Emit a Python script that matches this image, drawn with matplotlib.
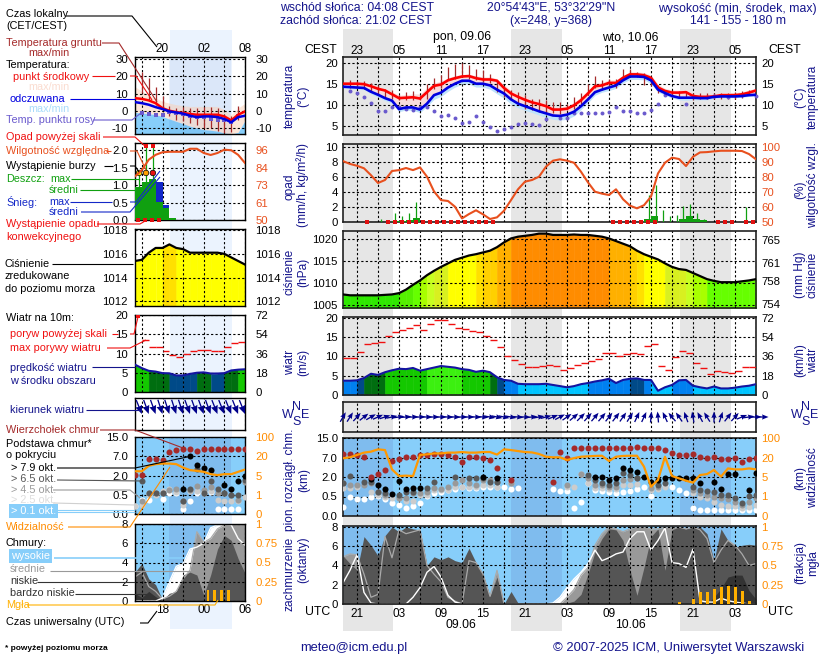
#!/usr/bin/env python
import numpy as np
import matplotlib as mpl
mpl.use('Agg')
import matplotlib.pyplot as plt

mpl.rcParams['font.family'] = 'Liberation Sans'
W, H = 820, 660
NAVY = '#14148c'
ORANGE = '#ff8c00'
RHCOL = '#e8501e'

# ---- main panel, hours from 19 UTC
hours = np.arange(60)
grid_hours = np.arange(2, 60, 3)
utc_labels = ['21', '', '03', '', '09', '', '15', '', '21', '', '03', '', '09', '', '15', '', '21', '', '03', '']
cest_labels = ['23', '', '05', '', '11', '', '17', '', '23', '', '05', '', '11', '', '17', '', '23', '', '05', '']
nights = [(0, 7.1), (24, 31.3), (48.1, 55.4)]

temp_mid = [15, 15, 15, 14.9, 14.4, 13.8, 13.4, 12.5, 11.6, 11.7,
            11.8, 11.5, 13, 14.5, 14.8, 15.8, 16.3, 16.7, 16.8, 16.3,
            16, 16, 15.7, 14, 12.7, 11.9, 11.2, 10.6, 10.2, 9.7,
            8.9, 8.9, 9.1, 9.9, 11.1, 12.7, 14.4, 14.6, 15.2, 15.2,
            16.4, 17.2, 17.2, 17, 16.4, 14.1, 13.3, 12.9, 12.9, 13,
            12.1, 11.9, 11.9, 12, 12.3, 12.3, 12.3, 12.5, 12.9, 13.4]
temp_max = [15.3, 15.3, 15.3, 15.2, 14.9, 14.4, 13.9, 13.1, 12.3, 12.4,
            12.6, 12.6, 14, 15.2, 15.6, 16.4, 16.9, 17.2, 17.2, 16.9,
            16.6, 16.6, 16.2, 14.8, 13.4, 12.6, 11.9, 11.3, 10.9, 10.4,
            9.6, 9.5, 9.8, 10.6, 11.9, 13.5, 15, 15.3, 15.9, 15.9,
            17, 17.8, 17.8, 17.6, 17, 14.9, 13.9, 13.5, 13.5, 13.6,
            12.8, 12.5, 12.5, 12.6, 12.9, 12.9, 12.9, 13.1, 13.5, 14]
feels = [14.3, 14.2, 14.1, 14, 13.1, 12.4, 11.6, 11, 9, 9.4,
         9.4, 8.9, 10.3, 12.3, 12.9, 14.1, 15, 15.7, 15.7, 15,
         15, 14.6, 13.6, 12.7, 11.3, 10.3, 9.7, 9.1, 8.5, 8,
         7.5, 7.4, 7.7, 8.4, 9.7, 11.3, 13, 13.6, 14.1, 14.6,
         15.8, 16.7, 16.7, 16.6, 15.8, 13.6, 12.8, 12.1, 11.7, 11.7,
         11.7, 11.6, 11.6, 11.9, 12, 12, 12, 12.1, 12.3, 12.4]
feels_min = [13.9, 13.8, 13.7, 13.6, 12.6, 11.8, 11, 10.4, 8.4, 8.8,
             8.7, 8.2, 9.6, 11.3, 12, 13.2, 14.2, 14.9, 14.9, 14.2,
             14.2, 13.7, 12.6, 11.6, 10.2, 9.3, 8.7, 8.2, 7.6, 7,
             6.6, 6.4, 6.6, 7.4, 8.9, 10.5, 12.3, 13, 13.4, 13.9,
             15.2, 16, 16, 15.9, 15, 13, 12.3, 11.6, 11.2, 11.1,
             11.2, 11.2, 11.2, 11.5, 11.7, 11.7, 11.7, 11.8, 12, 12.1]
ground_hours = np.arange(1, 60)
ground_max = [15.8, 15.6, 15.6, 15.2, 14.6, 13.8, 13.6, 12.3, 13, 13.3,
              12.3, 15, 16.4, 17, 18.9, 19.7, 19.8, 19.3, 18.5, 18.3,
              17.2, 15.6, 14.1, 13.4, 13, 12.3, 11.5, 11.5, 11.1, 10.7,
              10.7, 10.2, 11.9, 12.8, 15, 16.7, 15.9, 16.2, 16.2, 18.4,
              18.5, 17.7, 17.5, 16.6, 14.6, 13.6, 13.4, 13.3, 13.3, 12.8,
              12.7, 12.7, 12.8, 12.8, 12.8, 13, 13.3, 13.6, 13.8]
ground_min = [14.1, 14.1, 13.8, 13, 12.3, 11.7, 11.3, 11.1, 11.1, 11.1,
              11.1, 11.5, 13.8, 14.1, 15.8, 16.2, 16.6, 16.2, 15.8, 15.4,
              15.2, 13, 11.9, 11.5, 10.3, 9.1, 8.8, 8.4, 8, 8,
              7.8, 8.8, 9.1, 10.3, 12.3, 14.1, 13.6, 14.2, 14.1, 15.8,
              16.7, 16.6, 14.6, 14.4, 12.8, 12.3, 11.9, 11.9, 11.7, 11.1,
              11.5, 11.3, 11.4, 11.3, 11.3, 11.4, 11.7, 12.3, 12.3]
dew_hours = list(range(1, 30)) + list(range(31, 47)) + [49, 52, 53, 55, 57, 59]
dew = [13.2, 12.7, 11.9, 10.5, 8.5, 8.6, 9.4, 9.5, 9, 8.9,
       9.4, 9.4, 8.6, 7.4, 7.7, 7, 5.7, 5.9, 7.3, 5.9,
       4.7, 3.8, 4.3, 4.8, 5.5, 5.7, 5.4, 5.3, 6.6,
       7, 7, 8, 8.1, 8.2, 8, 8, 8.4, 9.5, 8.5, 8.5, 8.2, 8, 8.8, 10.1, 12.3,
       10.3, 11.9, 12, 11.9, 12.3, 12.1]

rh = [90.4, 88.5, 87.3, 85.6, 81, 75.8, 77.8, 83.8, 84.4, 85.8,
      84.4, 86.2, 80, 70.2, 64.4, 63.8, 60, 52.2, 55.1, 57.6,
      54.9, 51.8, 52.9, 57.3, 64.4, 71.6, 76.7, 77.8, 80, 86.7,
      90.7, 91.6, 90.7, 89.3, 83.3, 76.2, 70, 68.7, 67.8, 71.6,
      65, 60.7, 58.9, 61, 66.7, 82.2, 89.3, 92.7, 91.8, 87.1,
      93.3, 96.2, 96.4, 96.9, 97.3, 97.3, 97.3, 97.1, 95.1, 91.6]
rain_max_hours = [5.4, 7.4, 8.4, 9.4, 10.4, 43.7, 44.7, 45.7, 46.7, 47.7, 48.6, 49.6, 50.6, 51.6, 57.6]
rain_max = [0.3, 1.1, 0.7, 1.1, 2.6, 3.6, 4.9, 1.5, 0.7, 0.9, 2.1, 2.4, 1.1, 0.4, 2.0]
rain_mean_hours = [7, 8, 9, 10, 43, 44, 48, 49, 50, 51]
rain_mean = [0.1, 0.15, 0.2, 0.5, 0.3, 0.8, 0.4, 0.7, 0.4, 0.2]
conv_hours = [3.5] + [h + 0.5 for h in range(6, 22)] + [38.6, 39.6, 40.6, 41.6, 42.6, 43.6, 44.6, 53.6, 54.6, 55.6, 57.6, 58.6]

pressure = [1007.4, 1007.2, 1007.2, 1007.2, 1007.2, 1007.2, 1007.3, 1007.4, 1007.7, 1008.5,
            1009.6, 1010.6, 1011.8, 1012.8, 1013.7, 1014.5, 1015.3, 1015.8, 1016.3, 1016.6,
            1017, 1017.4, 1018.2, 1019.3, 1020.2, 1020.6, 1020.8, 1021, 1021.3, 1021.3,
            1021, 1021, 1021, 1021.1, 1021, 1021, 1020.8, 1020.6, 1020.2, 1019.6,
            1019, 1018.4, 1017.4, 1016.6, 1016, 1015.4, 1014.5, 1013.7, 1013.2, 1013,
            1012.3, 1011.6, 1010.9, 1010.5, 1010.2, 1010.2, 1010.2, 1010.4, 1010.6, 1010.9]
press_bins = [1008, 1009.6, 1010.9, 1012, 1013, 1014.4, 1016.6, 1017.1, 1018.6, 1020.1]
press_colors = ['#2fe800', '#55f000', '#66ff00', '#a8ff00', '#c8ff20', '#d8f020', '#ffff00',
                '#ffe000', '#ffd000', '#ffb000', '#ff8c00']

wind = [3.7, 3.7, 3.8, 4.4, 5.5, 5.2, 5.9, 6.4, 6.8, 6.7,
        7, 6.3, 6.7, 7.1, 7.5, 7.3, 7.1, 6.7, 6.5, 6,
        6.3, 5.9, 4.6, 3.9, 3.7, 2.9, 2.8, 2.8, 2.8, 2.9,
        2.6, 2.3, 2, 2.3, 2.8, 3.1, 3.5, 3.8, 4.2, 3.1,
        3.9, 4.2, 4.3, 3.9, 3.9, 1.1, 2, 2.6, 3.8, 3.9,
        2.4, 2, 1.7, 2.2, 1.7, 1.7, 1.9, 2.2, 2.4, 2.8]
gust = [9.6, 9.6, 11.2, 13.2, 13.5, 13.8, 15.3, 16.4, 16.9, 17.4,
        18, 16.9, 18.3, 19.3, 19.3, 18.5, 17.4, 17, 16.7, 16.2,
        15.3, 14.3, 12.5, 10.1, 9.1, 8, 7.2, 7.2, 7.5, 7.7,
        7.5, 6.5, 7, 7.8, 8.3, 8.9, 9.3, 10.9, 10.9, 10.1,
        10.7, 10.9, 10.7, 12.7, 13.3, 7.5, 6.5, 9.8, 11.4, 10.9,
        8.4, 7, 5.4, 6.3, 6, 5.7, 6.2, 7.2, 7.2]
wind_bins = [3, 4.05, 4.85, 5.7, 6.85]
wind_colors = ['#00c4ff', '#0080f0', '#004a88', '#006e10', '#14c800', '#3cf010']
dir_hours = np.arange(61)
wind_dir = [30, 32, 42, 52, 60, 66, 72, 78, 82, 85,
            88, 88, 90, 90, 90, 92, 92, 90, 90, 92,
            95, 100, 102, 102, 100, 95, 92, 85, 80, 75,
            68, 62, 55, 50, 45, 42, 40, 40, 38, 38,
            35, 32, 25, 25, 5, -5, -25, -40, -35, -20,
            -10, -28, -32, 0, 18, 38, 42, 68, 82, 88, 90]

# cloud base values are on the chart's own scale: 0=0.0, 1=0.5, 2=2.0, 3=7.0, 4=15.0 km
cloud_ticks = [0, 1, 2, 3, 4]
cloud_labels = ['0.0', '0.5', '2.0', '7.0', '15.0']
vis_labels = ['0', '1', '5', '20', '100']
top_hours = list(range(0, 23)) + [24] + list(range(30, 60))
top_lvl = [3.18, 3.16, 3.13, 3.04, 2.02, 2.14, 2.36, 2.84, 2.91, 3.03, 3.03, 3.11, 3.11, 3.16, 3.16, 3.11, 3.01,
           2.79, 3.03, 3.03, 2.97, 2.85, 2.48, 1.85,
           1.73, 3.30, 2.99, 3.47, 3.47, 3.47, 3.47, 3.47, 3.47, 3.47, 3.47, 3.47, 3.54, 3.47, 3.47, 3.47, 3.40,
           3.25, 3.13, 3.13, 3.16, 3.04, 2.96, 3.04, 2.92, 2.92, 2.97, 2.75, 2.91, 2.97]
black_hours = [4, 5, 6, 7, 8, 9, 10, 11, 20, 22, 36, 37, 38, 39, 40, 41, 42, 43, 44, 45, 46, 47, 48, 49, 50, 51, 53, 54, 55, 56, 58, 59]
black_lvl = [1.88, 1.59, 1.37, 1.11, 1.78, 1.37, 1.42, 1.42, 2.02, 1.97, 2.02, 2.02, 1.85, 1.97, 2.44, 2.36, 2.27, 2.02, 1.76, 1.85,
             1.97, 1.97, 1.97, 1.97, 1.97, 1.68, 1.76, 1.37, 2.14, 2.14, 1.33, 2.22]
dark_hours = [0, 1, 3, 4, 5, 6, 8, 9, 10, 12, 13, 16, 18, 19, 20, 21, 22, 35, 36, 37, 38, 39, 40, 41, 42, 45, 46, 50, 51, 52, 53, 54, 55, 56, 57, 58, 59]
dark_lvl = [1.68, 2.07, 1.76, 1.76, 1.25, 1.16, 1.08, 1.25, 1.25, 1.42, 1.76, 2.02, 1.97, 1.97, 1.97, 1.76, 1.76,
            2.1, 1.85, 1.68, 1.59, 1.68, 2.22, 2.1, 1.97, 1.59, 1.71, 1.5, 1.33, 1.3, 1.25, 1.08, 1.08, 0.91, 0.68, 1.03, 1.08]
gray_hours = [0, 1, 2, 3, 4, 5, 6, 8, 9, 10, 11, 12, 13, 14, 15, 16, 17, 18, 19, 20, 21, 22, 24, 32, 34, 35, 36, 37, 38, 39, 40, 41, 42, 44, 45, 50, 51, 52, 53, 54, 55, 56, 57, 58, 59]
gray_lvl = [1.68, 1.59, 1.59, 1.59, 1.68, 1.25, 1.08, 0.91, 0.91, 1.16, 1.16, 1.21, 1.42, 1.37, 1.5, 1.68, 1.85, 1.68, 1.59, 1.85, 1.85, 1.76, 1.71,
            1.59, 2.15, 1.93, 1.59, 1.59, 1.5, 1.5, 1.85, 1.88, 1.93, 1.42, 1.5, 1.33, 1.16, 1.08, 0.99, 0.91, 0.85, 0.74, 0.56, 0.74, 0.91]
light_hours = [0, 1, 2, 4, 5, 6, 7, 8, 9, 10, 11, 12, 13, 14, 15, 16, 17, 18, 19, 20, 21, 22, 24, 32, 33, 34, 35, 36, 37, 38, 39, 40, 41, 42, 44, 45, 46, 50, 51, 52, 53, 54, 55, 56, 57, 58, 59]
light_lvl = [1.42, 1.42, 1.5, 1.21, 1.08, 0.99, 0.91, 0.91, 0.79, 0.79, 1.08, 1.08, 1.33, 1.33, 1.33, 1.5, 1.5, 1.5, 1.5, 1.59, 1.59, 1.5, 1.68,
             1.5, 1.5, 2.15, 1.68, 1.42, 1.42, 1.37, 1.37, 1.59, 1.59, 1.64, 1.33, 1.37, 1.5, 1.16, 0.99, 0.91, 0.74, 0.56, 0.51, 0.51, 0.39, 0.48, 0.56]
white_hours = list(range(0, 26)) + list(range(30, 60))
white_lvl = [0.44, 0.99, 0.85, 0.85, 0.99, 1.04, 0.85, 0.65, 0.55, 0.41, 0.5, 0.65, 1.04, 1.2, 1.25, 1.32, 1.37, 1.5, 1.42, 1.42, 1.47, 1.5, 1.5, 1.5, 1.37, 1.45,
             1.37, 1.3, 1.3, 0.39, 0.72, 1.71, 1.33, 1.28, 1.25, 1.16, 1.25, 1.28, 1.37, 1.5, 1.03, 1.5, 1.59, 1.47, 1.33, 1.16, 0.43, 0.31, 0.31, 0.31, 0.31, 0.31, 0.31, 0.31, 0.31, 0.31]
vis_lvl = [2.96, 3.01, 3.13, 3.25, 3.30, 3.42, 3.38, 2.39, 2.05, 2.07, 2.05, 3.13, 3.16, 3.21, 3.21, 3.25, 3.25, 3.28, 3.25, 3.25,
           3.28, 3.28, 3.15, 3.42, 3.38, 3.33, 3.28, 3.26, 3.18, 3.04, 3.01, 3.01, 2.87, 2.97, 3.04, 3.06, 3.08, 3.09, 2.82, 3.04,
           3.08, 3.09, 3.09, 2.53, 1.5, 1.85, 3.04, 2.05, 1.93, 1.81, 1.71, 2.1, 2.15, 2.36, 2.02, 2.44, 2.39, 2.39, 2.44, 2.39]

cloud_high = [2.2, 3.5, 5.1, 1.2, 0.1, 0, 0, 0, 0, 0, 0.7, 1.7, 3.3, 3.9, 2.8, 0.9, 0.2, 0, 0, 0,
              0, 0, 0, 0, 0, 0, 0, 0, 0, 0, 0.1, 0.7, 1.7, 2.6, 3.3, 4.2, 5.6, 4.5, 4.8, 5.2,
              5.4, 6.8, 7.5, 7.5, 5.6, 6.6, 7.9, 4.3, 4.2, 3.8, 5.7, 0.35, 0.2, 0.2, 0.6, 0.35, 0.2, 0.1, 0, 0]
cloud_mid = [4.9, 5.2, 5.1, 3.1, 0.7, 1, 7, 4.8, 7.7, 7.3, 7.5, 7.7, 4, 3.1, 2.3, 0.7, 0.3, 0, 4.5, 4.3,
             3.1, 0.8, 3.5, 0, 0, 0, 0, 0, 0, 0, 0, 0, 0.7, 1.5, 3, 3.8, 6.1, 7.3, 8, 7.8,
             7.5, 7.8, 8, 8, 7.8, 7.8, 8, 8, 8, 7.8, 8, 7.7, 6.8, 4.3, 5.6, 6.6, 6.1, 5.2, 4, 4.2]
cloud_low = [5, 4.2, 3.5, 7, 6.1, 5, 7.1, 8, 7.5, 8, 7.8, 7.7, 4, 4.9, 4.6, 4.9, 4.5, 4.3, 5.8, 4.3,
             3.1, 0.8, 2.8, 0, 1.3, 0.1, 0, 0, 0, 0, 0, 0, 0.1, 0.3, 1, 3.1, 5.4, 6.8, 7.8, 7.7,
             6.6, 3.5, 0.9, 3.8, 7, 7.8, 3.5, 7.7, 8, 7.8, 8, 8, 7.3, 4.5, 7.8, 6.6, 5.9, 6.1, 6.2, 6.1]
cloud_vlow_hours = [52, 53, 54, 55, 56, 57, 58, 59]
cloud_vlow = [0, 0.7, 1.6, 2.8, 3, 3, 1.4, 0.5]
fog_hours = [48.1, 50.1, 51.1, 52.1, 53.1, 54.1, 55.1, 56.1, 57.1, 58.1]
fog = [0.03, 0.06, 0.15, 0.16, 0.19, 0.22, 0.24, 0.22, 0.17, 0.04]

# ---- small panel on the left, hours from 14 UTC
l_hours = np.arange(17)
l_grid = np.arange(1, 17, 3)
l_utc = ['', '18', '', '00', '', '06']
l_cest = ['', '20', '', '02', '', '08']
l_temp_mid = [7.3, 6.9, 6, 4.4, 1.5, 0, -0.8, -1.3, -1.9, -2.3, -2.3, -2.3, -2.3, -3.3, -5.6, -2.3, -0.4]
l_temp_max = [14, 11.2, 9.2, 7.3, 5.4, 4.4, 3.5, 2.9, 2.5, 2.5, 2.5, 2.5, 2.5, 0.6, -2.3, 1.5, 4.4]
l_feels = [5, 4.4, 3.5, 2.1, 1, -0.4, -1, -1.7, -2.9, -3.7, -3.3, -3.3, -3.7, -4.8, -6.7, -3.7, -2.9]
l_feels_min = [-1, -1.3, -1.7, -2.3, -3.3, -4.8, -6.2, -7.5, -9, -10, -11, -11.3, -11.9, -12.9, -13.5, -12.5, -5.6]
l_ground_hours = np.arange(1, 16)
l_ground_max = [22.7, 18.8, 14, 8.3, 2.5, 1.5, 2.1, 1.5, 1.5, 2.1, 2.1, 1.5, -2.3, -3.3, 2.9]
l_ground_min = [10.2, 6.3, 3.5, 1.5, -3.3, -5.2, -6.2, -7.1, -8.1, -10, -10, -11.9, -12.9, -12.5, -5.6]
l_dew = [-1.3, -1.7, -2.3, -2.7, -1, -1.3, -1.7, -2.9, -3.7, -3.7, -4.8, -5.2, -5.6, -6.7, -3.3]
l_rh = [78.8, 83, 89.8, 93, 94.7, 95, 95, 95, 97, 97, 94.2, 92.9, 94.2, 96.4, 96, 93, 87.6]
l_rain_hours = [0, 1, 2, 3, 4, 5]
l_rain_mean = [0.94, 1.1, 1.17, 0.53, 0.34, 0.06]
l_snow_hours = [3, 4]
l_snow = [1.09, 0.43]
l_spike_hours = [0.6, 1.6, 2.6]
l_spike_low = [0.94, 1.1, 1.17]
l_spike_high = [1.35, 2.12, 2.12]
l_storm_colors = ['#ffe000', '#ffa000', '#e81010']
l_conv_hours = [0.5, 1.5, 2.5, 3.5]
l_pressure = [1015.4, 1015.5, 1016.1, 1016.5, 1016.5, 1016.8, 1016.5, 1016.4, 1016.1, 1016.1, 1016.1, 1016.1, 1016.1, 1016, 1015.7, 1015.4, 1015.1]
l_wind = [7.1, 6.2, 5.5, 5.3, 4.9, 4.85, 4.3, 4.3, 4.7, 5, 5.1, 4.8, 4.8, 4.9, 5.6, 5.8, 5.9]
l_gust_hours = np.arange(1, 16)
l_gust = [13.6, 11.7, 11.7, 10.7, 9.6, 9, 9.9, 10.7, 11, 11, 10.7, 10.7, 11.8, 12.8, 13.1]
l_dir_hours = np.arange(1, 17)
l_wind_dir = [158, 160, 160, 162, 162, 162, 162, 160, 160, 160, 160, 158, 158, 158, 158, 158]
l_top = [2.02, 2.02, 2.88, 2.88, 2.83, 3.22, 3.34, 3.36, 3.36, 3.26, 3.36, 3.36, 3.36, 3.36, 3.36, 3.36, 3.36]
l_black_hours = [7, 8, 9, 10, 11, 13, 14, 15, 16]
l_black = [1.28, 3, 2.57, 2.4, 2.28, 1.5, 1.28, 1.71, 1.97]
l_dark_hours = [1, 2, 3, 4, 7, 8, 9, 10, 11, 12, 13, 14, 15, 16]
l_dark = [1.71, 1.1, 1.1, 1.1, 0.67, 1.28, 2.36, 1.07, 1.71, 1.28, 1.07, 0.98, 0.98, 1.76]
l_gray_hours = np.arange(1, 17)
l_gray = [0.67, 1.07, 1.1, 1.07, 1.24, 1.28, 0.67, 1.24, 1.45, 1.24, 1.41, 1.07, 1.07, 0.98, 0.72, 1.67]
l_light = [0.41, 0.47, 0.98, 0.98, 1.19, 1.29, 1.16, 0.47, 1.19, 1.19, 1.07, 1.22, 0.72, 0.69, 0.69, 0.69, 0.9]
l_white_hours = [0, 1, 2, 4, 5, 6, 7, 8, 9, 10, 11, 12, 13, 14, 15]
l_white = [0.41, 0.72, 0.72, 0.78, 1.1, 1.1, 0.24, 0.69, 1.1, 1.16, 1.16, 0.24, 0.24, 0.24, 0.24]
l_vis = [2.22, 2.22, 2.5, 2.59, 2.62, 2.62, 2.59, 2.41, 2.28, 2.24, 2.19, 2.07, 2.02, 2.07, 2.07, 2.19, 2.31]
l_high = [0, 0, 0, 0, 0.3, 2, 3.6, 3.9, 5.4, 5.6, 6, 7.6, 7.9, 8, 7.9, 6.5, 5.8]
l_mid = [2.5, 3, 1.5, 1, 0.2, 0.5, 1, 2.3, 3.2, 7.2, 6.1, 6.5, 7.5, 7.9, 8, 8, 8]
l_low = [3, 3.9, 2.3, 1.7, 0.1, 0.8, 1, 2.7, 3, 2.7, 0.6, 2.7, 5.4, 6.8, 6.3, 4.4, 2.9]
l_vlow_hours = [0, 1, 2, 3, 4]
l_vlow = [0.8, 0.35, 1, 0.45, 0]
l_fog_hours = [10.6, 11.6, 12.6, 13.6]
l_fog = [0.14, 0.14, 0.14, 0.14]

fig = plt.figure(figsize=(W / 100, H / 100), dpi=100)


def box_axes(x0, y0, x1, y1, **kw):
    return fig.add_axes([x0 / W, 1 - y1 / H, (x1 - x0) / W, (y1 - y0) / H], **kw)


def panel(box, xlim, grid, ylim, yticks, ylabels, rlim=None, rticks=None, rlabels=None, rcolor='black', main=True):
    ax = box_axes(*box)
    ax.set_facecolor('none')
    ax.set_xlim(xlim)
    ax.set_ylim(ylim)
    ax.set_xticks(grid, [''] * len(grid))
    ax.set_yticks(yticks, ylabels)
    ax.tick_params(length=0, labelsize=8.2, pad=3.8 if main else 5)
    ax.grid(True, color='black', lw=0.8, ls=(0, (2, 2)))
    ax.set_axisbelow(False)
    for sp in ax.spines.values():
        sp.set_linewidth(1.2 if main else 1.0)
        sp.set_color('#222222' if main else 'black')
    tw = ax.twinx()
    tw.set_ylim(rlim if rlim else ylim)
    tw.set_yticks(rticks if rticks is not None else yticks, rlabels if rlabels else ylabels, color=rcolor)
    tw.tick_params(length=0, labelsize=8.2, pad=3.8 if main else 7.5)
    for sp in tw.spines.values():
        sp.set_visible(False)
    return ax, tw


def step_fill(ax, hrs, values, base, bins, colors):
    # each hour column takes its colour from the mean of its two ends
    for i in range(len(hrs) - 1):
        c = colors[np.searchsorted(bins, (values[i] + values[i + 1]) / 2)]
        ax.fill_between(hrs[i:i + 2], values[i:i + 2], base, color=c, lw=0.4, zorder=1)


def cloud_fill(ax, hrs, high, mid, low, vlow_hours, vlow, base_col='#555555'):
    ax.fill_between(hrs, high, 0, color='white', lw=0, zorder=1.1)
    ax.fill_between(hrs, mid, 0, color='#999999', lw=0, zorder=1.2)
    ax.fill_between(hrs, low, 0, color=base_col, lw=0, zorder=1.3)
    ax.fill_between(vlow_hours, vlow, 0, color='#333333', lw=0, zorder=1.4)
    ax.plot(hrs, mid, color='#aaaaaa', lw=0.9, zorder=2)
    ax.plot(hrs, high, color='white', lw=1.0, zorder=2.1)


def sky(ax, spans):
    ax.set_facecolor('#87cefa')
    for a, b in spans:
        ax.axvspan(a, b, color='#7fbcee', lw=0, zorder=0.5)


def arrows(ax, hrs, bearing, length, pivot, head):
    rad = np.radians(bearing)
    q = ax.quiver(hrs, np.zeros(len(hrs)), np.sin(rad) * length, np.cos(rad) * length,
                  angles='uv', scale_units='dots', scale=1, units='dots', width=1.3,
                  headwidth=head, headlength=head + 1, headaxislength=head + 0.5, pivot=pivot,
                  color='#00008b', zorder=4)
    q.set_clip_on(False)


# day / night bands behind everything
back = box_axes(343, 29, 756, 631, zorder=-2)
back.set_xlim(0, 59)
back.axis('off')
for a, b in nights:
    back.axvspan(a, b, color='#e6e6e6', lw=0)
l_day = (5, 13.9)
back2 = box_axes(135, 30, 245, 629, zorder=-2)
back2.set_xlim(0, 15.7)
back2.axis('off')
back2.axvspan(*l_day, color='#ebf3fe', lw=0)

mx = (0, 59)
lx = (0, 15.7)

# --- main: temperature
ax, tw = panel((343, 57, 756, 135), mx, grid_hours, (2.9, 21.3), [5, 10, 15, 20], ['5', '10', '15', '20'])
ax.fill_between(hours, feels, temp_max, color='#f9dcdc', lw=0, zorder=1)
ax.fill_between(hours, feels_min, feels, color='#bfe3fb', lw=0, zorder=1)
ax.vlines(ground_hours, ground_min, ground_max, color='#a52a2a', lw=0.9, zorder=3)
ax.scatter(dew_hours, dew, s=8, color='#6a5acd', lw=0, zorder=3, clip_on=False)
ax.plot(hours, temp_mid, color='#ff0000', lw=1.9, zorder=4)
ax.plot(hours, feels, color='#0000e0', lw=1.9, zorder=4)
ax.set_xticks(grid_hours, cest_labels)
ax.tick_params(axis='x', labelbottom=False, labeltop=True, pad=0.3, labelsize=8.5)

# --- main: rain and humidity
ax, tw = panel((343, 144, 756, 222), mx, grid_hours, (-0.04, 10.36), [0, 2, 4, 6, 8, 10], ['0', '2', '4', '6', '8', '10'],
               rlim=(49.8, 101.8), rticks=[50, 60, 70, 80, 90, 100], rlabels=['50', '60', '70', '80', '90', '100'], rcolor=RHCOL)
ax.bar(rain_mean_hours, rain_mean, width=1, align='edge', color='#10a010', lw=0, zorder=3)
ax.vlines(rain_max_hours, 0, rain_max, color='#10a010', lw=0.9, zorder=3)
ax.scatter(conv_hours, [0] * len(conv_hours), marker='s', s=5, color='#e01010', lw=0, zorder=4, clip_on=False)
tw.plot(hours, rh, color=RHCOL, lw=1.5, zorder=4)

# --- main: pressure
ax, tw = panel((343, 231, 756, 308), mx, grid_hours, (1004.3, 1021.9), [1005, 1010, 1015, 1020], ['1005', '1010', '1015', '1020'],
               rlim=(753.3, 766.6), rticks=[754, 758, 761, 765], rlabels=['754', '758', '761', '765'])
step_fill(ax, hours, pressure, 1004.3, press_bins, press_colors)
ax.plot(hours, pressure, color='black', lw=1.6, zorder=4)

# --- main: wind
ax, tw = panel((343, 317, 756, 395), mx, grid_hours, (0, 20.2), [0, 5, 10, 15, 20], ['0', '5', '10', '15', '20'],
               rlim=(0, 72.7), rticks=[0, 18, 36, 54, 72], rlabels=['0', '18', '36', '54', '72'])
step_fill(ax, hours, wind, 0, wind_bins, wind_colors)
ax.plot(hours, wind, color='#1414a0', lw=1.5, zorder=4)
ax.hlines(gust, hours[:-1], hours[1:], color='#f01010', lw=1.0, zorder=4)

# --- main: wind direction
ax, tw = panel((343, 402, 756, 432), mx, grid_hours, (-1, 1), [], [], rticks=[], rlabels=[])
arrows(ax, dir_hours, wind_dir, 11, 'mid', 4)

# --- main: cloud base and visibility
ax, tw = panel((343, 438, 756, 516), mx, grid_hours, (0, 4), cloud_ticks, cloud_labels, rlabels=vis_labels, rcolor=ORANGE)
sky(ax, nights)
dot = 19
ax.scatter(white_hours, white_lvl, s=dot, color='white', lw=0, zorder=3)
ax.scatter(light_hours, light_lvl, s=dot, color='#cccccc', lw=0, zorder=3.1)
ax.scatter(gray_hours, gray_lvl, s=dot, color='#999999', lw=0, zorder=3.2)
ax.scatter(dark_hours, dark_lvl, s=dot, color='#595959', lw=0, zorder=3.3)
ax.scatter(black_hours, black_lvl, s=dot, color='black', lw=0, zorder=3.4)
ax.scatter(top_hours, top_lvl, s=dot, color='#a52a2a', lw=0, zorder=3.5)
ax.plot(hours, vis_lvl, color='#ff9800', lw=1.6, zorder=4)

# --- main: cloud cover and fog
ax, tw = panel((343, 526, 756, 604), mx, grid_hours, (0, 8.1), [0, 2, 4, 6, 8], ['0', '2', '4', '6', '8'],
               rlim=(0, 1.0125), rticks=[0, 0.25, 0.5, 0.75, 1], rlabels=['0', '0.25', '0.5', '0.75', '1'], rcolor=ORANGE)
sky(ax, nights)
cloud_fill(ax, hours, cloud_high, cloud_mid, cloud_low, cloud_vlow_hours, cloud_vlow)
tw.bar(fog_hours, fog, width=0.4, color='#ffb000', lw=0, zorder=1)
ax.set_xticks(grid_hours, utc_labels)
ax.tick_params(axis='x', pad=3, labelsize=8.5)

# --- left: temperature
ax, tw = panel((135, 57, 245, 134), lx, l_grid, (-13.5, 31.2), [-10, 0, 10, 20, 30], ['-10', '0', '10', '20', '30'], main=False)
ax.fill_between(l_hours, l_feels_min, l_temp_max, color='#fde6d8', lw=0, zorder=1)
ax.fill_between(l_hours, -13.5, l_feels_min, color='#87cefa', lw=0, zorder=1)
ax.axvspan(*l_day, color='#2060c0', alpha=0.08, lw=0, zorder=1.1)
ax.vlines(l_ground_hours, l_ground_min, l_ground_max, color='#a52a2a', lw=0.9, zorder=3)
ax.scatter(l_ground_hours, l_dew, s=8, marker='s', color='#6a5acd', lw=0, zorder=3)
ax.plot(l_hours, l_temp_mid, color='#ff0000', lw=1.8, zorder=4)
ax.plot(l_hours, l_feels, color='#0000e0', lw=1.8, zorder=4)
ax.set_xticks(l_grid, l_cest)
ax.tick_params(axis='x', labelbottom=False, labeltop=True, pad=1.5, labelsize=8.5)

# --- left: rain and humidity
ax, tw = panel((135, 143, 245, 220), lx, l_grid, (0, 2.21), [0, 0.5, 1, 1.5, 2], ['0.0', '0.5', '1.0', '1.5', '2.0'],
               rlim=(50, 100.8), rticks=[50, 61.5, 73, 84.5, 96], rlabels=['50', '61', '73', '84', '96'], rcolor=RHCOL, main=False)
ax.bar(l_snow_hours, l_snow, width=1, align='edge', color='#1428c8', lw=0, zorder=3)
ax.bar(l_rain_hours, l_rain_mean, width=1, align='edge', color='#10a010', lw=0, zorder=3.1)
ax.vlines(l_spike_hours, l_spike_low, l_spike_high, color='#10a010', lw=0.9, zorder=3.1)
ax.scatter(l_spike_hours, [1.35] * 3, s=16, c=l_storm_colors, edgecolors='black', lw=0.5, zorder=5)
ax.scatter(l_spike_hours[1:], [2.12] * 2, s=9, marker='s', color='#e81010', lw=0, zorder=5)
ax.scatter(l_conv_hours, [0] * 4, s=5, marker='s', color='#e01010', lw=0, zorder=5, clip_on=False)
tw.plot(l_hours, l_rh, color=RHCOL, lw=1.5)

# --- left: pressure
ax, tw = panel((135, 229, 245, 306), lx, l_grid, (1011.6, 1018.1), [1012, 1014, 1016, 1018], ['1012', '1014', '1016', '1018'], main=False)
step_fill(ax, l_hours, l_pressure, 1011.6, press_bins, press_colors)
ax.plot(l_hours, l_pressure, color='black', lw=1.6, zorder=4)

# --- left: wind
ax, tw = panel((135, 315, 245, 392), lx, l_grid, (0, 20), [0, 5, 10, 15, 20], ['0', '5', '10', '15', '20'],
               rlim=(0, 72), rticks=[0, 18, 36, 54, 72], rlabels=['0', '18', '36', '54', '72'], main=False)
step_fill(ax, l_hours, l_wind, 0, wind_bins, wind_colors)
ax.plot(l_hours, l_wind, color='#1414a0', lw=1.5, zorder=4)
ax.hlines(l_gust, l_gust_hours, l_gust_hours + 1, color='#f01010', lw=1.0, zorder=4)
ax.scatter([0.5], [19.8], s=8, marker='s', color='#f01010', lw=0, zorder=5)

# --- left: wind direction
ax, tw = panel((135, 398, 245, 430), lx, l_grid, (-1, 1), [], [], rticks=[], rlabels=[], main=False)
arrows(ax, l_dir_hours, l_wind_dir, 15, 'tip', 5.5)

# --- left: cloud base
ax, tw = panel((135, 437, 245, 514), lx, l_grid, (0, 4), cloud_ticks, cloud_labels, rlabels=vis_labels, rcolor=ORANGE, main=False)
sky(ax, [l_day])
ax.scatter(l_white_hours, l_white, s=dot, color='white', lw=0, zorder=3)
ax.scatter(l_hours, l_light, s=dot, color='#cccccc', lw=0, zorder=3.1)
ax.scatter(l_gray_hours, l_gray, s=dot, color='#999999', lw=0, zorder=3.2)
ax.scatter(l_dark_hours, l_dark, s=dot, color='#595959', lw=0, zorder=3.3)
ax.scatter(l_black_hours, l_black, s=dot, color='black', lw=0, zorder=3.4)
ax.scatter(l_hours, l_top, s=dot, color='#a52a2a', lw=0, zorder=3.5)
ax.plot(l_hours, l_vis, color='#ff9800', lw=1.6, zorder=4)

# --- left: cloud cover
ax, tw = panel((135, 524, 245, 601), lx, l_grid, (0, 8), [0, 2, 4, 6, 8], ['0', '2', '4', '6', '8'],
               rlim=(0, 1), rticks=[0, 0.25, 0.5, 0.75, 1], rlabels=['0', '0.25', '0.5', '0.75', '1'], rcolor=ORANGE, main=False)
sky(ax, [l_day])
cloud_fill(ax, l_hours, l_high, l_mid, l_low, l_vlow_hours, l_vlow)
tw.bar(l_fog_hours, l_fog, width=0.4, color='#ffb000', lw=0, zorder=1)
ax.set_xticks(l_grid, l_utc)
ax.tick_params(axis='x', pad=2, labelsize=8.5)

# --- page texts and leader lines, in pixels
page = fig.add_axes([0, 0, 1, 1], zorder=10)
page.set_xlim(0, W)
page.set_ylim(H, 0)
page.axis('off')
page.patch.set_alpha(0)


def txt(x, y, s, color='black', ha='left', size=7.8, **kw):
    page.text(x, y, s, color=color, ha=ha, va='center', fontsize=size, **kw)


def leader(xs, ys, color='black', lw=0.8):
    page.plot(xs, ys, color=color, lw=lw, solid_capstyle='butt')


RED = '#f01010'
BROWN = '#a52a2a'
GREEN = '#10a010'
BLUE = '#1428c8'

# header
txt(280, 8, 'wschód słońca: 04:08 CEST', NAVY, size=8.8)
txt(280, 21, 'zachód słońca: 21:02 CEST', NAVY, size=8.8)
txt(551, 8, '20°54\'43"E, 53°32\'29"N', NAVY, ha='center', size=8.8)
txt(551, 21, '(x=248, y=368)', NAVY, ha='center', size=8.8)
txt(817, 9, 'wysokość (min, środek, max)', NAVY, ha='right', size=8.8)
txt(738, 21, '141 - 155 - 180 m', NAVY, ha='center', size=8.8)
txt(462, 37, 'pon, 09.06', size=8.8, ha='center')
txt(630, 37, 'wto, 10.06', size=8.8, ha='center')
txt(321, 50, 'CEST', size=8.8, ha='center')
txt(785, 50, 'CEST', size=8.8, ha='center')
txt(318, 612, 'UTC', size=8.8, ha='center')
txt(781, 612, 'UTC', size=8.8, ha='center')
txt(461, 625, '09.06', size=8.8, ha='center')
txt(630, 625, '10.06', size=8.8, ha='center')

# footer
txt(300, 648, 'meteo@icm.edu.pl', NAVY, size=9.3)
txt(553, 648, '© 2007-2025 ICM, Uniwersytet Warszawski', NAVY, size=9.4)
txt(5, 648, '* powyżej poziomu morza', size=6, fontweight='bold')

# axis titles
for x, y, s in [(290, 96, 'temperatura'), (303, 96, '(°C)'), (290, 187, 'opad'), (303, 185, '(mm/h, kg/m²/h)'),
                (290, 272, 'ciśnienie'), (303, 272, '(hPa)'), (290, 362, 'wiatr'), (303, 362, '(m/s)'),
                (290, 480, 'pion. rozciągł. chm.'), (304, 480, '(km)'), (290, 574, 'zachmurzenie'), (303, 560, '(oktanty)'),
                (800, 97, '(°C)'), (813, 97, 'temperatura'), (800, 190, '(%)'), (813, 185, 'wilgotność wzgl.'),
                (800, 275, '(mm Hg)'), (813, 275, 'ciśnienie'), (800, 360, '(km/h)'), (813, 360, 'wiatr'),
                (800, 478, '(km)'), (813, 478, 'widzialność'), (800, 563, '(frakcja)'), (813, 563, 'mgła')]:
    page.text(x, y, s, color=NAVY, rotation=90, ha='center', va='center', fontsize=8.6)

for cx in (297, 806):
    txt(cx, 407, 'N', NAVY, ha='center', size=9)
    txt(cx - 9, 415, 'W', NAVY, ha='center', size=9)
    txt(cx + 8, 415, 'E', NAVY, ha='center', size=9)
    txt(cx, 422, 'S', NAVY, ha='center', size=9)

# legend on the left
txt(6, 14, 'Czas lokalny')
txt(6, 26, '(CET/CEST)')
leader([66, 132, 157], [16, 16, 47])
txt(6, 43, 'Temperatura gruntu', BROWN)
txt(28, 53, 'max/min', BROWN)
leader([102, 119, 157], [43, 43, 102], BROWN)
txt(6, 65, 'Temperatura:')
txt(13, 77, 'punkt środkowy', RED)
leader([92, 115], [76, 76], RED)
leader([130, 136, 152], [76, 76, 100], RED)
txt(28, 87, 'max/min', '#fbdcd0')
txt(10, 99, 'odczuwana', '#0000e0')
leader([70, 135], [99, 99], '#0000e0')
txt(28, 109, 'max/min', '#a8dcfb')
txt(6, 120, 'Temp. punktu rosy', '#6a5acd')
leader([93, 132, 141], [120, 120, 113], '#6a5acd')
txt(6, 137, 'Opad powyżej skali', RED)
leader([103, 135, 146], [137, 137, 147], RED)
txt(6, 151, 'Wilgotność względna', RHCOL)
leader([106, 111], [151, 151], RHCOL)
leader([130, 137, 146], [151, 151, 170], RHCOL)
txt(6, 166, 'Wystąpienie burzy')
leader([104, 113], [166, 166])
leader([130, 135, 139], [166, 166, 172])
txt(6, 179, 'Deszcz:', GREEN)
txt(50, 179, 'max', GREEN)
leader([71, 139], [179, 179], GREEN)
txt(49, 190, 'średni', GREEN)
leader([80, 136], [190, 190], GREEN)
txt(6, 202, 'Śnieg:', BLUE)
txt(49, 202, 'max', BLUE)
leader([70, 112], [202, 202], BLUE)
leader([130, 136, 160], [202, 202, 171], BLUE)
txt(49, 212, 'średni', BLUE)
leader([81, 130, 160], [212, 212, 177], BLUE)
txt(6, 224, 'Wystąpienie opadu', RED)
leader([97, 140, 147], [224, 224, 220], RED)
txt(6, 237, 'konwekcyjnego', RED)
txt(5, 264, 'Ciśnienie')
leader([52, 133], [264, 264])
txt(5, 276, 'zredukowane')
txt(5, 289, 'do poziomu morza')
txt(6, 318, 'Wiatr na 10m:')
txt(10, 334, 'poryw powyżej skali', RED)
leader([112, 118], [334, 334], RED)
leader([130, 134, 138], [334, 334, 317], RED)
txt(10, 348, 'max porywy wiatru', RED)
leader([107, 130, 146], [348, 348, 340], RED)
txt(10, 368, 'prędkość wiatru', NAVY)
leader([92, 135], [367, 367], NAVY)
txt(10, 381, 'w środku obszaru', NAVY)
txt(10, 410, 'kierunek wiatru', NAVY)
leader([86, 140], [410, 410], NAVY)
txt(6, 430, 'Wierzchołek chmur', BROWN)
leader([100, 135, 183], [430, 430, 448], BROWN)
txt(6, 444, 'Podstawa chmur*')
txt(6, 455, 'o pokryciu')
txt(11, 468, '> 7.9 okt.')
leader([57, 135, 192], [468, 468, 456])
txt(11, 479, '> 6.5 okt.', '#555555')
leader([57, 143], [480, 481], '#555555')
txt(11, 490, '> 4.5 okt.', '#999999')
leader([53, 130, 140], [490, 490, 498], '#999999')
txt(11, 500, '> 2.5 okt.', '#dddddd')
leader([53, 135], [503, 505], '#d0d0d0')
txt(11, 511, '> 0.1 okt.', 'white', bbox=dict(fc='#87cefa', ec='none', pad=1.2))
leader([55, 135], [510, 510], '#87cefa')
leader([55, 135], [512, 512], '#87cefa')
txt(6, 527, 'Widzialność', '#ff8c00')
leader([68, 130, 170], [527, 527, 467], '#ff8c00')
txt(6, 543, 'Chmury:')
txt(11, 556, 'wysokie', 'white', bbox=dict(fc='#87cefa', ec='none', pad=1.2))
leader([54, 185], [558, 558], '#87cefa', 1.2)
txt(10, 569, 'średnie', '#999999')
leader([50, 190], [571, 571], '#999999')
txt(10, 581, 'niskie', '#333333')
leader([37, 135], [582, 582], '#333333')
txt(10, 593, 'bardzo niskie', '#333333')
leader([75, 150], [594, 594], '#333333')
txt(6, 605, 'Mgła', '#ffb000')
leader([27, 215, 218], [605, 605, 600], '#ffb000')
txt(6, 622, 'Czas uniwersalny (UTC)')
leader([140, 148, 157], [623, 623, 611])

fig.savefig('out.png', dpi=100)
